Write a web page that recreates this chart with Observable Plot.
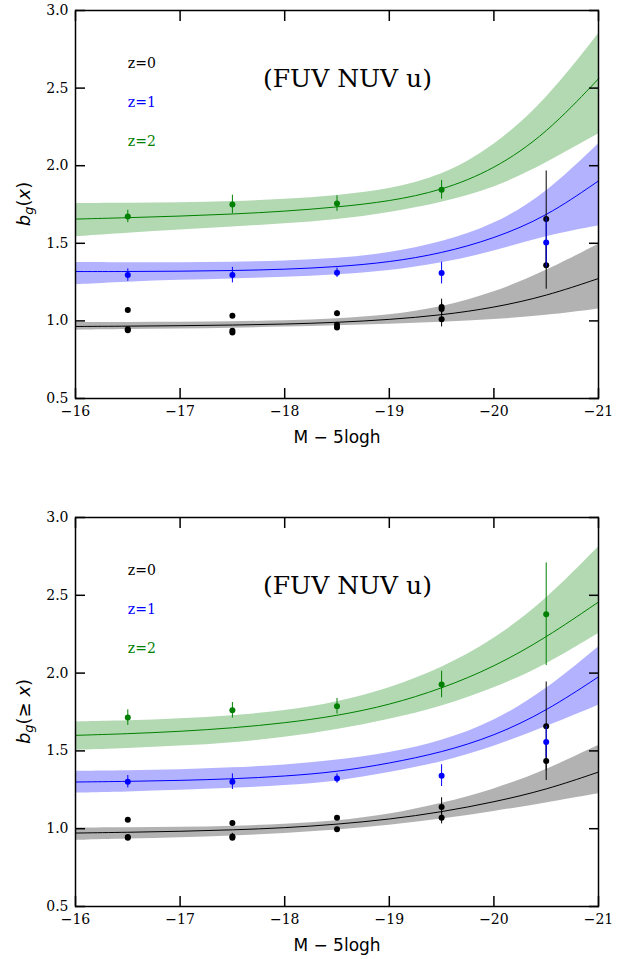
<!DOCTYPE html>
<html><head><meta charset="utf-8">
<script src="https://cdn.jsdelivr.net/npm/d3@7"></script>
<script src="https://cdn.jsdelivr.net/npm/@observablehq/plot@0.6"></script>
<style>
body{margin:0;background:#fff;}
#chart svg{display:block;}
</style></head><body><div id="chart"></div>
<script>
// ---------- data ----------
const magGrid = [-16, -16.5, -17, -17.5, -18, -18.5, -19, -19.5, -20, -20.5, -21];
const magBins = [-16.5, -17.5, -18.5, -19.5, -20.5];
const xTicks = [-16, -17, -18, -19, -20, -21];
const yTicks = [0.5, 1.0, 1.5, 2.0, 2.5, 3.0];
const zLabels = ["z=0", "z=1", "z=2"];
const zColors = ["black", "blue", "green"];
const panelTitle = "(FUV NUV u)";
const xLabel = "M \u2212 5logh";

// Panel A : b_g(x)  fitted curves (mid / low / high)
const fitA_z0 = [0.964, 0.966, 0.969, 0.973, 0.979, 0.990, 1.008, 1.037, 1.085, 1.160, 1.273];
const fitA_z0_lo = [0.940, 0.944, 0.948, 0.953, 0.960, 0.968, 0.977, 0.990, 1.007, 1.034, 1.076];
const fitA_z0_hi = [0.990, 0.990, 0.991, 0.994, 1.000, 1.012, 1.035, 1.085, 1.180, 1.320, 1.494];
const fitA_z1 = [1.318, 1.318, 1.320, 1.324, 1.332, 1.348, 1.378, 1.435, 1.530, 1.671, 1.902];
const fitA_z1_lo = [1.233, 1.250, 1.262, 1.270, 1.280, 1.295, 1.320, 1.370, 1.445, 1.548, 1.612];
const fitA_z1_hi = [1.376, 1.374, 1.374, 1.377, 1.385, 1.400, 1.435, 1.505, 1.615, 1.817, 2.140];
const fitA_z2 = [1.656, 1.665, 1.675, 1.688, 1.706, 1.733, 1.770, 1.840, 1.975, 2.205, 2.560];
const fitA_z2_lo = [1.542, 1.565, 1.585, 1.605, 1.625, 1.650, 1.695, 1.760, 1.850, 2.015, 2.205];
const fitA_z2_hi = [1.756, 1.757, 1.760, 1.768, 1.782, 1.805, 1.845, 1.930, 2.120, 2.420, 2.850];

// Panel A measurements
const ptsA_z0a = [1.071, 1.033, 1.050, 1.090, 1.656];
const errA_z0a = [0.010, 0.015, 0.015, 0.050, 0.310];
const ptsA_z0b = [0.947, 0.936, 0.975, 1.076, 1.359];
const errA_z0b = [0.015, 0.015, 0.010, 0.040, 0.155];
const ptsA_z0c = [0.940, 0.925, 0.958, 1.011];
const errA_z0c = [0.010, 0.010, 0.010, 0.050];
const ptsA_z1 = [1.295, 1.295, 1.310, 1.308, 1.505];
const errA_z1 = [0.040, 0.050, 0.030, 0.070, 0.160];
const ptsA_z2 = [1.673, 1.750, 1.756, 1.845];
const errA_z2 = [0.040, 0.060, 0.050, 0.060];

// Panel B : b_g(>= x)
const fitB_z0 = [0.972, 0.977, 0.983, 0.992, 1.005, 1.028, 1.060, 1.107, 1.171, 1.250, 1.364];
const fitB_z0_lo = [0.925, 0.933, 0.942, 0.953, 0.968, 0.990, 1.020, 1.060, 1.110, 1.165, 1.225];
const fitB_z0_hi = [1.004, 1.005, 1.008, 1.015, 1.027, 1.048, 1.090, 1.160, 1.250, 1.375, 1.535];
const fitB_z1 = [1.300, 1.304, 1.310, 1.320, 1.337, 1.365, 1.420, 1.490, 1.595, 1.755, 1.976];
const fitB_z1_lo = [1.229, 1.236, 1.246, 1.259, 1.276, 1.302, 1.360, 1.425, 1.525, 1.655, 1.793];
const fitB_z1_hi = [1.369, 1.372, 1.378, 1.390, 1.408, 1.438, 1.485, 1.560, 1.685, 1.890, 2.168];
const fitB_z2 = [1.600, 1.610, 1.625, 1.647, 1.679, 1.725, 1.795, 1.900, 2.039, 2.228, 2.457];
const fitB_z2_lo = [1.504, 1.515, 1.530, 1.550, 1.585, 1.635, 1.700, 1.782, 1.900, 2.050, 2.254];
const fitB_z2_hi = [1.686, 1.692, 1.705, 1.725, 1.755, 1.810, 1.900, 2.029, 2.211, 2.468, 2.811];

// Panel B measurements
const ptsB_z0a = [1.058, 1.036, 1.071, 1.139, 1.658];
const errB_z0a = [0.010, 0.015, 0.010, 0.060, 0.285];
const ptsB_z0b = [0.942, 0.950, 0.996, 1.071, 1.435];
const errB_z0b = [0.015, 0.020, 0.010, 0.040, 0.125];
const ptsB_z0c = [0.946, 0.942];
const errB_z0c = [0.010, 0.010];
const ptsB_z1 = [1.302, 1.302, 1.322, 1.341, 1.557];
const errB_z1 = [0.040, 0.050, 0.030, 0.070, 0.100];
const ptsB_z2 = [1.714, 1.761, 1.787, 1.927, 2.378];
const errB_z2 = [0.050, 0.050, 0.050, 0.085, 0.330];

// ---------- helpers ----------
function fitRows(mid, lo, hi, z) {
  return magGrid.map((m, i) => ({mag: m, mid: mid[i], lo: lo[i], hi: hi[i], z}));
}
function ptRows(vals, errs, z) {
  return vals.map((v, i) => ({mag: magBins[i], v, e: errs[i], z}));
}

function makePanel({fits, pts, height, marginTop, marginBottom, ylabel}) {
  const marks = [];
  fits.forEach(rows => {
    const c = zColors[rows[0].z];
    marks.push(Plot.areaY(rows, {x: "mag", y1: "lo", y2: "hi", fill: c, fillOpacity: 0.3, curve: "basis"}));
  });
  fits.forEach(rows => {
    const c = zColors[rows[0].z];
    marks.push(Plot.line(rows, {x: "mag", y: "mid", stroke: c, strokeWidth: 1, curve: "basis"}));
  });
  pts.forEach(rows => {
    const c = zColors[rows[0].z];
    marks.push(Plot.ruleX(rows, {x: "mag", y1: d => d.v - d.e, y2: d => d.v + d.e, stroke: c, strokeWidth: 1}));
    marks.push(Plot.dot(rows, {x: "mag", y: "v", r: 3, fill: c, stroke: null}));
  });
  marks.push(Plot.text(zLabels, {
    x: () => -16.5, y: (d, i) => 2.66 - i * 0.252, text: d => d,
    fill: (d, i) => zColors[i], textAnchor: "start", fontSize: 14, fontFamily: "DejaVu Serif"
  }));
  marks.push(Plot.text([panelTitle], {x: () => -18.6, y: () => 2.56, text: d => d, fontSize: 25, fontFamily: "DejaVu Serif", fill: "black"}));
  marks.push(Plot.frame({stroke: "black", strokeWidth: 1.5}));
  // inward ticks on all four sides
  marks.push(Plot.axisX(xTicks, {anchor: "bottom", tickSize: 10, dy: -10, tickFormat: () => "", label: null, strokeWidth: 1.5}));
  marks.push(Plot.axisX(xTicks, {anchor: "top", tickSize: 10, dy: 10, tickFormat: () => "", label: null, strokeWidth: 1.5}));
  marks.push(Plot.axisY(yTicks, {anchor: "left", tickSize: 10, dx: 10, tickFormat: () => "", label: null, strokeWidth: 1.5}));
  marks.push(Plot.axisY(yTicks, {anchor: "right", tickSize: 10, dx: -10, tickFormat: () => "", label: null, strokeWidth: 1.5}));
  // tick labels
  marks.push(Plot.axisX(xTicks, {anchor: "bottom", tickSize: 0, tickPadding: 8, tickFormat: d3.format("d"), label: null, fontSize: 14, fontFamily: "DejaVu Serif"}));
  marks.push(Plot.axisY(yTicks, {anchor: "left", tickSize: 0, tickPadding: 7, tickFormat: d3.format(".1f"), label: null, fontSize: 14, fontFamily: "DejaVu Serif"}));
  // x label
  marks.push(Plot.text([xLabel], {frameAnchor: "bottom", dy: 39, text: d => d, lineAnchor: "middle", fontSize: 17, fontFamily: "DejaVu Sans", fill: "black"}));

  const svg = Plot.plot({
    width: 630, height, marginTop, marginBottom, marginLeft: 75, marginRight: 32,
    x: {domain: [-16, -21]},
    y: {domain: [0.5, 3.0]},
    style: {fontFamily: "DejaVu Serif", fontSize: "14px", color: "black", background: "white", overflow: "visible"},
    marks
  });
  // y-axis label with math-style subscript
  const cy = marginTop + (height - marginTop - marginBottom) / 2;
  const t = d3.select(svg).append("text")
    .attr("transform", `translate(25,${cy}) rotate(-90)`)
    .attr("text-anchor", "middle")
    .attr("dominant-baseline", "middle")
    .attr("font-family", "DejaVu Sans")
    .attr("font-size", 18)
    .attr("fill", "black");
  t.append("tspan").attr("font-style", "italic").text("b");
  t.append("tspan").attr("font-style", "italic").attr("font-size", 13).attr("dy", 4).text("g");
  t.append("tspan").attr("dy", -4).text(ylabel[0]);
  t.append("tspan").attr("font-style", "italic").text("x");
  t.append("tspan").text(")");
  return svg;
}

const panelA = makePanel({
  fits: [fitRows(fitA_z0, fitA_z0_lo, fitA_z0_hi, 0), fitRows(fitA_z1, fitA_z1_lo, fitA_z1_hi, 1), fitRows(fitA_z2, fitA_z2_lo, fitA_z2_hi, 2)],
  pts: [ptRows(ptsA_z0a, errA_z0a, 0), ptRows(ptsA_z0b, errA_z0b, 0), ptRows(ptsA_z0c, errA_z0c, 0), ptRows(ptsA_z1, errA_z1, 1), ptRows(ptsA_z2, errA_z2, 2)],
  height: 470, marginTop: 10, marginBottom: 72, ylabel: ["("]
});
const panelB = makePanel({
  fits: [fitRows(fitB_z0, fitB_z0_lo, fitB_z0_hi, 0), fitRows(fitB_z1, fitB_z1_lo, fitB_z1_hi, 1), fitRows(fitB_z2, fitB_z2_lo, fitB_z2_hi, 2)],
  pts: [ptRows(ptsB_z0a, errB_z0a, 0), ptRows(ptsB_z0b, errB_z0b, 0), ptRows(ptsB_z0c, errB_z0c, 0), ptRows(ptsB_z1, errB_z1, 1), ptRows(ptsB_z2, errB_z2, 2)],
  height: 489, marginTop: 47, marginBottom: 53, ylabel: ["(\u2265 "]
});
document.getElementById("chart").append(panelA, panelB);
</script>
</body></html>
